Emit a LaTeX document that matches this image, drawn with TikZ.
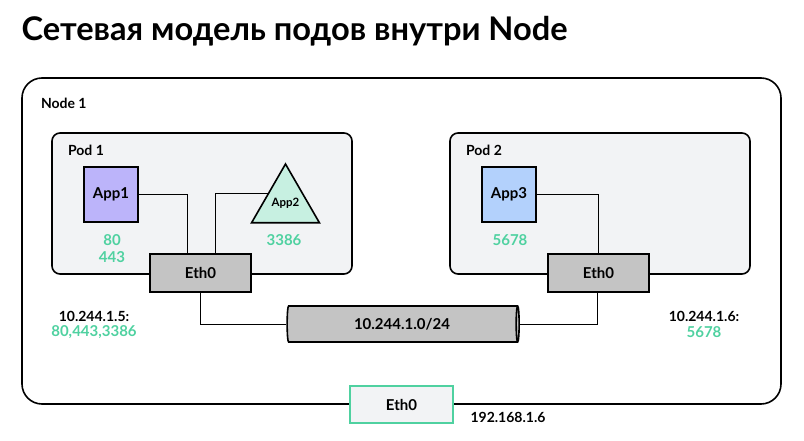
\documentclass[tikz,border=0pt]{standalone}
\usepackage{fontspec}
\setmainfont{Lato}
\usepackage{xcolor}
\usepackage{tikz}
\usetikzlibrary{
  arrows.meta,
  positioning,
  shapes.geometric,
  calc
}
\definecolor{podfill}{HTML}{F2F3F5}
\definecolor{appviolet}{HTML}{BCB4FA}
\definecolor{appmint}{HTML}{C7F0E1}
\definecolor{appblue}{HTML}{B3D1FC}
\definecolor{ethgray}{HTML}{C4C4C4}
\definecolor{portgreen}{HTML}{4FD1A0}

\begin{document}
\begin{tikzpicture}[x=1pt, y=-1pt,
  every node/.style={font=\bfseries},
  box/.style={draw=black, line width=1.6pt, inner sep=0pt},
  podbox/.style={box, fill=podfill, rounded corners=8pt,
                 minimum width=300pt, minimum height=141pt},
  appbox/.style={box, minimum width=54pt, minimum height=55pt, font=\bfseries\fontsize{15}{17}\selectfont},
  ethbox/.style={box, fill=ethgray, minimum width=101pt, minimum height=38pt, font=\bfseries\fontsize{15}{17}\selectfont},
  port/.style={text=portgreen, font=\bfseries\fontsize{15}{17}\selectfont, align=center},
  addr/.style={font=\bfseries\fontsize{14}{16}\selectfont},
  wire/.style={draw=black, line width=0.8pt}
]
\useasboundingbox (0,0) rectangle (804,441);

% title
\node[anchor=west, font=\bfseries\fontsize{32.6}{36}\selectfont] (title) at (18,31)
  {Сетевая модель подов внутри Node};

% node 1 and pods
\node[box, rounded corners=20pt, minimum width=759pt, minimum height=326pt] (node1) at (401.5,241) {};
\node[anchor=west, addr] (node1lbl) at (37.5,103) {Node 1};

\node[podbox] (pod1) at (202,203.5) {};
\node[anchor=west, addr] (pod1lbl) at (64.5,150) {Pod 1};
\node[podbox] (pod2) at (600,203.5) {};
\node[anchor=west, addr] (pod2lbl) at (462.5,150) {Pod 2};

% apps
\node[appbox, fill=appviolet] (app1) at (111,194.5) {App1};
\node[box, fill=appmint, regular polygon, regular polygon sides=3, minimum size=70.4pt,
      font=\bfseries\fontsize{11.5}{13}\selectfont] (app2) at (285.5,203.2) {\raisebox{-3pt}{App2}};
\node[appbox, fill=appblue] (app3) at (509,194.5) {App3};

\node[port] (port1) at (112,248.5) {80\\443};
\node[port] (port2) at (284,240) {3386};
\node[port] (port3) at (510,240) {5678};

% eth0 of pods
\node[ethbox] (eth1) at (200.5,273) {Eth0};
\node[ethbox] (eth2) at (598.5,273) {Eth0};

% pod network
\node[box, cylinder, fill=ethgray, cylinder uses custom fill, cylinder body fill=ethgray,
      cylinder end fill=ethgray!70, aspect=0.25, minimum width=36pt, minimum height=232pt,
      font=\bfseries\fontsize{15}{17}\selectfont] (net) at (402,324) {10.244.1.0/24};

% wires
\draw[wire] (app1.east) -| ([xshift=-13.5pt]eth1.north);
\draw[wire] (app2.side 1) -| ([xshift=14.5pt]eth1.north);
\draw[wire] (app3.east) -| ([xshift=-0.5pt]eth2.north);
\draw[wire] (eth1.south) |- (net.west);
\draw[wire] (net.east) -| ([xshift=-1.5pt]eth2.south);

% addresses
\node[addr] (ip1) at (94,316) {10.244.1.5:};
\node[port] (ip1ports) at (94,332) {80,443,3386};
\node[addr] (ip2) at (704,316) {10.244.1.6:};
\node[port] (ip2ports) at (704,332) {5678};

% host eth0
\node[box, draw=portgreen, fill=podfill, minimum width=103pt, minimum height=37pt,
      font=\bfseries\fontsize{15}{17}\selectfont] (hosteth) at (401.5,404.5) {Eth0};
\node[addr] (hostip) at (508,417) {192.168.1.6};
\end{tikzpicture}
\end{document}
